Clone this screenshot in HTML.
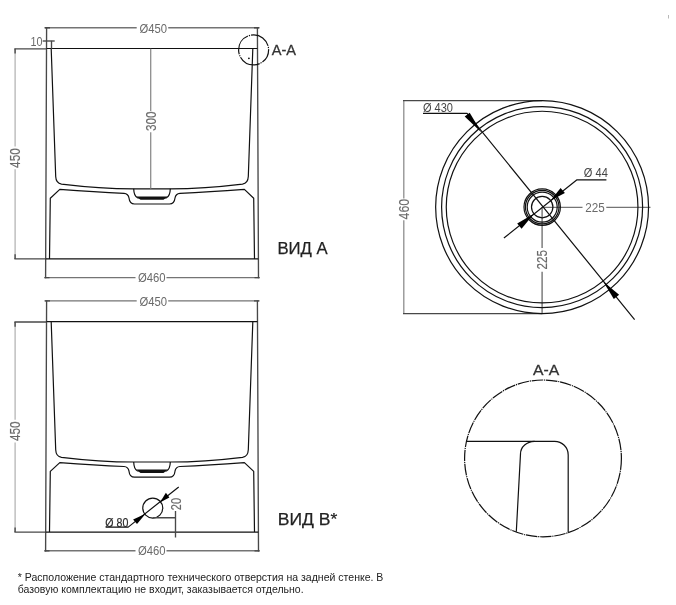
<!DOCTYPE html>
<html><head><meta charset="utf-8">
<style>
html,body{margin:0;padding:0;background:#fff;}
body{width:676px;height:605px;overflow:hidden;font-family:"Liberation Sans",sans-serif;}
svg{display:block;will-change:transform;}
text{font-family:"Liberation Sans",sans-serif;}
.o{stroke:#111;stroke-width:1.2;fill:none;stroke-linecap:butt;stroke-linejoin:round;}
.d{stroke:#747474;stroke-width:1.4;fill:none;}
.dl{stroke:#b0b0b0;stroke-width:1.2;fill:none;}
.dm{stroke:#8e8e8e;stroke-width:1.3;fill:none;}
.dk{stroke:#484848;stroke-width:1.35;fill:none;}
.t{fill:#6a6a6a;font-size:12.8px;}
.r{font-size:14px;stroke:#6a6a6a;stroke-width:0.15;}
.b{fill:#000;}
</style></head><body>
<svg width="676" height="605" viewBox="0 0 676 605">
<rect width="676" height="605" fill="#fff"/>


<!-- ============ VIEW A ============ -->
<g>
<!-- horizontal Ø dims -->
<path class="d" d="M44.4 27.7H136.7M168.2 27.7H259.6"/>
<path class="d" d="M44.4 277.6H135.5M166.5 277.6H259.6"/>
<!-- outer walls / extension lines -->
<path class="dk" d="M46.6 27.2L45.6 278.2M257.4 27.2L258.5 278.2"/>
<path class="dk" d="M45 27.7H50M254 27.7H259M44.5 277.6H49.5M254.5 277.6H259.5" stroke-width="1.5"/>
<!-- left 450 dim -->
<path class="dl" d="M15.1 48.8V146.5M15.1 169.3V258.9"/>
<path class="dk" d="M15.1 48.8V53.5M15.1 254.2V258.9"/>
<path class="dk" d="M14.4 48.8H46.6M14.4 258.9H46" stroke-width="1.5"/>
<!-- outline -->
<path class="o" d="M46.6 48.5H257.4" stroke-width="1.15"/>
<path class="o" d="M45.8 258.9H258.2" stroke-width="1.45"/>
<path class="o" d="M51.2 48.8L55.7 176.5Q56 183.3 61.5 184.1Q100 188.8 133.7 188.8H170.3Q204 188.8 242.5 184.1Q248 183.3 248.3 176.5L252.8 48.8"/>
<path class="o" d="M49.5 258.9L50.3 198.2L59.8 189.4Q95 192 124 193.3Q128.3 193.6 129 198Q129.6 204 134.5 204H169.5Q174.4 204 175 198Q175.7 193.6 180 193.3Q209 192 244.4 189.4L253.7 198.2L254.5 258.9"/>
<path class="o" d="M133.7 188.8Q133.9 196 137.5 197.8H166.5Q170.1 196 170.3 188.8"/>
<path d="M136.2 196.4H167.8L163.5 199.7H140.5Z" fill="#111"/>
</g>
<path class="dm" d="M150.7 48.8V111M150.7 132.2V188.5"/>
<path class="dk" d="M42.7 41H54.7" stroke-width="2" stroke="#3c3c3c"/>
<path class="dk" d="M51.5 40.8V48.8" stroke-width="1"/>
<circle cx="253.6" cy="49.9" r="15" class="o" stroke-dasharray="22 1 1.2 1" stroke-dashoffset="8" stroke-width="1"/>
<circle cx="248.9" cy="58.3" r="0.9" fill="#111"/>
<text class="t" x="139.4" y="32.7" textLength="27.6" lengthAdjust="spacingAndGlyphs">Ø450</text>
<text class="t" x="138" y="282" textLength="27.6" lengthAdjust="spacingAndGlyphs">Ø460</text>
<text class="t" x="30.6" y="45.8" textLength="12" lengthAdjust="spacingAndGlyphs">10</text>
<text class="t r" transform="translate(155.8 131.1) rotate(-90)" textLength="19.6" lengthAdjust="spacingAndGlyphs">300</text>
<text class="t r" transform="translate(20.2 167.9) rotate(-90)" textLength="19.6" lengthAdjust="spacingAndGlyphs">450</text>
<text x="271.8" y="55.2" font-size="15.5" fill="#333" stroke="#333" stroke-width="0.3" textLength="24.3" lengthAdjust="spacingAndGlyphs">A-A</text>
<text x="277.4" y="253.9" font-size="17.2" fill="#222" stroke="#222" stroke-width="0.25" textLength="50.3" lengthAdjust="spacingAndGlyphs">ВИД A</text>

<!-- ============ VIEW B ============ -->
<g transform="translate(0 273.2)">
<!-- horizontal Ø dims -->
<path class="d" d="M44.4 27.7H136.7M168.2 27.7H259.6"/>
<path class="d" d="M44.4 277.6H135.5M166.5 277.6H259.6"/>
<!-- outer walls / extension lines -->
<path class="dk" d="M46.6 27.2L45.6 278.2M257.4 27.2L258.5 278.2"/>
<path class="dk" d="M45 27.7H50M254 27.7H259M44.5 277.6H49.5M254.5 277.6H259.5" stroke-width="1.5"/>
<!-- left 450 dim -->
<path class="dl" d="M15.1 48.8V146.5M15.1 169.3V258.9"/>
<path class="dk" d="M15.1 48.8V53.5M15.1 254.2V258.9"/>
<path class="dk" d="M14.4 48.8H46.6M14.4 258.9H46" stroke-width="1.5"/>
<!-- outline -->
<path class="o" d="M46.6 48.5H257.4" stroke-width="1.15"/>
<path class="o" d="M45.8 258.9H258.2" stroke-width="1.45"/>
<path class="o" d="M51.2 48.8L55.7 176.5Q56 183.3 61.5 184.1Q100 188.8 133.7 188.8H170.3Q204 188.8 242.5 184.1Q248 183.3 248.3 176.5L252.8 48.8"/>
<path class="o" d="M49.5 258.9L50.3 198.2L59.8 189.4Q95 192 124 193.3Q128.3 193.6 129 198Q129.6 204 134.5 204H169.5Q174.4 204 175 198Q175.7 193.6 180 193.3Q209 192 244.4 189.4L253.7 198.2L254.5 258.9"/>
<path class="o" d="M133.7 188.8Q133.9 196 137.5 197.8H166.5Q170.1 196 170.3 188.8"/>
<path d="M136.2 196.4H167.8L163.5 199.7H140.5Z" fill="#111"/>
</g>
<text class="t" x="139.4" y="305.9" textLength="27.6" lengthAdjust="spacingAndGlyphs">Ø450</text>
<text class="t" x="138" y="555.2" textLength="27.6" lengthAdjust="spacingAndGlyphs">Ø460</text>
<text class="t r" transform="translate(20.2 441.1) rotate(-90)" textLength="19.6" lengthAdjust="spacingAndGlyphs">450</text>
<text x="277.7" y="525.2" font-size="17.2" fill="#222" stroke="#222" stroke-width="0.25" textLength="59.6" lengthAdjust="spacingAndGlyphs">ВИД В*</text>
<!-- hole -->
<circle cx="152.77" cy="508.1" r="10" class="o"/>
<path class="o" d="M105.6 527.1H128.2L178.7 487"/>
<path class="b" d="M145.6 513.8L133.1 519.4L137 524.1Z"/>
<path class="b" d="M159.9 502.5L165.9 492.8L169.4 497.4Z"/>
<path class="dk" d="M152.8 517.7H175.5M175.5 511.1V537.5" stroke-width="1.25" stroke="#555"/>
<text class="t r" transform="translate(180.9 510.2) rotate(-90)" textLength="12.2" lengthAdjust="spacingAndGlyphs">20</text>
<text x="105.3" y="526.9" font-size="12.6" fill="#2a2a2a" stroke="#2a2a2a" stroke-width="0.2" textLength="23" lengthAdjust="spacingAndGlyphs">Ø 80</text>

<!-- ============ TOP VIEW ============ -->
<g id="top">
<path class="dm" d="M403.8 100.6V198.6M403.8 220.2V313.6" stroke-width="1.5" stroke="#959595"/>
<path class="dk" d="M403 100.6H542.2M403 313.6H542.2"/>
<path class="d" d="M542.1 207.3V248.1M542.1 271.8V313.6"/>
<path class="d" d="M542.2 207.4H582.5M606.3 207.4H650.5"/>
<circle cx="542.1" cy="207.1" r="106.45" class="o"/>
<circle cx="542.1" cy="207.1" r="100.5" class="o"/>
<circle cx="542.1" cy="207.1" r="95.85" class="o"/>
<circle cx="542.2" cy="207.1" r="18.2" class="o" stroke-width="0.7"/>
<circle cx="542.2" cy="207.1" r="16.8" class="o" stroke-width="0.7"/>
<circle cx="542.2" cy="207.1" r="15" class="o" stroke-width="1.4"/>
<circle cx="542.2" cy="207.1" r="10.7" class="o"/>
<path class="o" d="M423 113.3H467.1L634.6 319.6" stroke-width="1.05"/>
<path class="b" d="M481.5 132.5L464.7 116.5L469.7 112.8Z"/>
<path class="b" d="M603.2 281.5L619.1 294.8L613.8 299Z"/>
<path class="o" d="M606.4 179.8H577L503.9 238" stroke-width="1.05"/>
<path class="b" d="M550.6 200.4L560.6 187.9L564.9 192.9Z"/>
<path class="b" d="M533.9 213.7L517.2 223.4L521.6 228.8Z"/>
</g>
<text class="t r" transform="translate(408.6 219.4) rotate(-90)" textLength="20.5" lengthAdjust="spacingAndGlyphs">460</text>
<text class="t r" transform="translate(547.2 269.6) rotate(-90)" textLength="19.5" lengthAdjust="spacingAndGlyphs">225</text>
<text class="t" x="585.3" y="211.8" textLength="19.5" lengthAdjust="spacingAndGlyphs">225</text>
<text x="423" y="111.7" font-size="12.2" fill="#444" textLength="30" lengthAdjust="spacingAndGlyphs">Ø 430</text>
<text x="583.8" y="176.5" font-size="12.2" fill="#444" textLength="24" lengthAdjust="spacingAndGlyphs">Ø 44</text>

<!-- ============ DETAIL A-A ============ -->
<g id="detail">
<circle cx="543" cy="458.4" r="78.4" class="o" stroke-width="0.85" stroke-dasharray="11.5 0.8 1.2 0.8"/>
<path class="o" d="M466.3 441.3H554.6A13.6 13.6 0 0 1 568.2 454.9V532.4" stroke-width="1.1"/>
<path class="o" d="M534.6 441.3A14 12.6 0 0 0 520.5 453.9L516.3 531.8" stroke-width="1.1"/>
</g>
<text x="533" y="375.1" font-size="15.5" fill="#333" stroke="#333" stroke-width="0.3" textLength="26.2" lengthAdjust="spacingAndGlyphs">A-A</text>

<rect x="668" y="15" width="1" height="3.5" fill="#b8b8b8"/>
<!-- footnote -->
<text x="17.8" y="580.7" font-size="11" fill="#222" textLength="365.6" lengthAdjust="spacingAndGlyphs">* Расположение стандартного технического отверстия на задней стенке. В</text>
<text x="17.8" y="593.3" font-size="11" fill="#222" textLength="285.8" lengthAdjust="spacingAndGlyphs">базовую комплектацию не входит, заказывается отдельно.</text>
</svg>
</body></html>
